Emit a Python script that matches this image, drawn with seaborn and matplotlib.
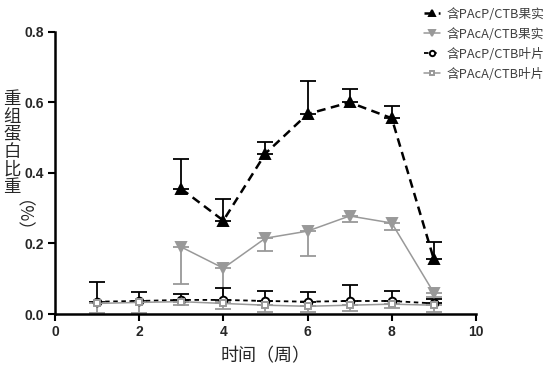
import matplotlib
matplotlib.use("Agg")
import matplotlib.pyplot as plt
import numpy as np
import pandas as pd
import seaborn as sns

# 数据
weeks = [1, 2, 3, 4, 5, 6, 7, 8, 9]
fruit_weeks = [3, 4, 5, 6, 7, 8, 9]

pacp_fruit = [0.355, 0.265, 0.455, 0.567, 0.600, 0.555, 0.155]
pacp_fruit_err = [0.085, 0.062, 0.032, 0.095, 0.037, 0.035, 0.050]

paca_fruit = [0.190, 0.130, 0.215, 0.235, 0.278, 0.258, 0.060]
paca_fruit_err = [0.105, 0.095, 0.035, 0.070, 0.018, 0.020, 0.012]

pacp_leaf = [0.035, 0.037, 0.040, 0.040, 0.037, 0.035, 0.037, 0.037, 0.030]
pacp_leaf_err = [0.057, 0.026, 0.016, 0.033, 0.029, 0.028, 0.044, 0.028, 0.012]

paca_leaf = [0.030, 0.033, 0.035, 0.030, 0.025, 0.022, 0.025, 0.028, 0.025]
paca_leaf_err = [0.028, 0.030, 0.008, 0.016, 0.020, 0.016, 0.016, 0.010, 0.020]

labels = ["含PAcP/CTB果实", "含PAcA/CTB果实", "含PAcP/CTB叶片", "含PAcA/CTB叶片"]

black = "#000000"
gray = "#999999"

sns.set_style("ticks")
plt.rcParams['font.family'] = ['Noto Sans CJK SC', 'DejaVu Sans']

fig = plt.figure(figsize=(5.49, 3.66), dpi=100)
ax = fig.add_axes([0.100, 0.142, 0.767, 0.771])

series = [
    (fruit_weeks, pacp_fruit, pacp_fruit_err, 1, black, "^", (3.5, 2.2), 1.8, black, 7),
    (fruit_weeks, paca_fruit, paca_fruit_err, -1, gray, "v", "", 1.1, gray, 7),
    (weeks, pacp_leaf, pacp_leaf_err, 1, black, "o", (2.5, 2), 1.3, "white", 5.5),
    (weeks, paca_leaf, paca_leaf_err, -1, gray, "s", "", 1.1, "white", 5),
]

for (x, y, e, side, c, m, dash, lw, fc, ms), lab in zip(series, labels):
    df = pd.DataFrame({"x": x, "y": y})
    sns.lineplot(data=df, x="x", y="y", ax=ax, color=c, linewidth=lw,
                 marker=m, markersize=ms, markerfacecolor=fc,
                 markeredgecolor=c, markeredgewidth=1.4,
                 label=lab, zorder=3)
    if dash:
        ax.lines[-1].set_dashes(dash)
    yerr = [np.zeros(len(e)), e] if side > 0 else [e, np.zeros(len(e))]
    ax.errorbar(x, y, yerr=yerr, fmt="none", ecolor=c, elinewidth=1.3,
                capsize=5.5, capthick=1.3, zorder=2)

ax.set_xlim(0, 10)
ax.set_ylim(0, 0.8)
ax.set_xticks([0, 2, 4, 6, 8, 10])
ax.set_yticks([0.0, 0.2, 0.4, 0.6, 0.8])
ax.set_yticklabels(["0.0", "0.2", "0.4", "0.6", "0.8"])
for lbl in ax.get_xticklabels() + ax.get_yticklabels():
    lbl.set_fontfamily("Liberation Sans")
    lbl.set_fontweight("bold")
    lbl.set_fontsize(10)
ax.tick_params(direction="out", length=5, width=1.5, color=black, pad=3)
for s in ["left", "bottom"]:
    ax.spines[s].set_linewidth(1.8)
    ax.spines[s].set_color(black)
sns.despine(ax=ax)

ax.set_xlabel("时间（周）", fontsize=13, labelpad=6)
ax.set_ylabel("")
fig.text(0.022, 0.609, "重\n组\n蛋\n白\n比\n重", fontsize=12.5, ha="center",
         va="center", linespacing=0.98)
fig.text(0.022, 0.385, "（%）", fontsize=12.5, ha="center", va="center",
         rotation=-90)

leg = ax.legend(loc="upper left", bbox_to_anchor=(0.758, 1.0),
                bbox_transform=fig.transFigure, frameon=False, fontsize=9.2,
                handlelength=1.3, labelspacing=0.55, handletextpad=0.5,
                markerscale=0.7, borderaxespad=0.2)
for t in leg.get_texts():
    t.set_color("#404040")

fig.savefig("out.png", dpi=100)
